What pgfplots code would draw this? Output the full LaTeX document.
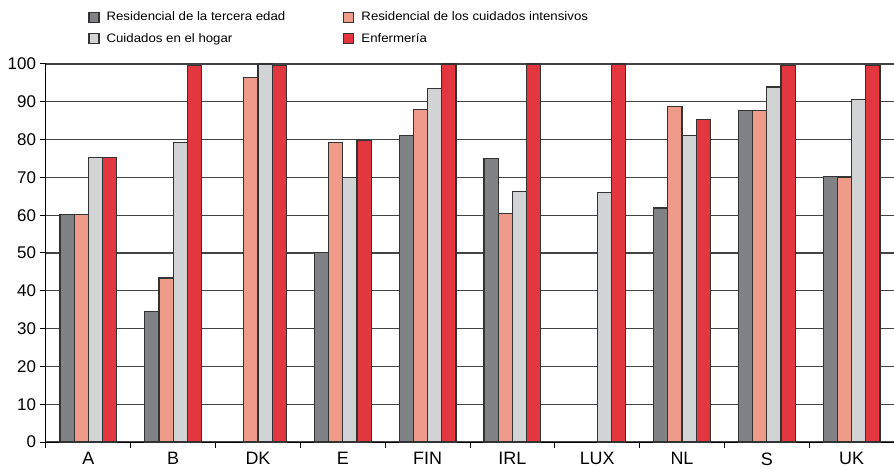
\documentclass[border=0pt]{standalone}
\usepackage{fontspec}
\setmainfont{Liberation Sans}
\newfontfamily\legendfont[FakeStretch=1.08]{Liberation Sans}
\usepackage{pgfplots}
\pgfplotsset{compat=1.18}

\definecolor{cDark}{HTML}{818286}
\definecolor{cSalmon}{HTML}{EE9B8A}
\definecolor{cLight}{HTML}{D1D3D4}
\definecolor{cRed}{HTML}{E2373F}
\definecolor{cEdge}{HTML}{333333}
\definecolor{cGrid}{HTML}{444444}

\begin{document}
\begin{tikzpicture}
% fixed canvas: 894 x 471 with the axis box at (46,29)-(894,407)
\useasboundingbox (-46bp,-29bp) rectangle (848bp,442bp);
\begin{axis}[
  scale only axis,
  width=848bp, height=378bp,
  at={(0,0)}, anchor=south west,
  xmin=0, xmax=10,
  ymin=0, ymax=100,
  clip=false,
  ybar=0pt,
  bar width=0.167,
  axis x line*=bottom,
  axis y line*=left,
  axis line style={-, line width=1bp, color=black},
  ytick={0,10,...,100},
  xtick={0,1,...,10},
  x tick label as interval,
  xticklabels={A,B,DK,E,FIN,IRL,LUX,NL,S,UK},
  major tick length=6bp,
  tick align=outside,
  tick style={line width=1bp, color=black},
  ymajorgrids,
  major grid style={line width=1.1bp, color=cGrid},
  yticklabel style={font=\fontsize{17}{19}\selectfont, xshift=-0.5bp},
  xticklabel style={font=\fontsize{18}{20}\selectfont, yshift=-1bp},
  /pgf/number format/assume math mode=true,
  every axis plot/.append style={draw=cEdge, line width=1.2bp},
  legend image code/.code={\draw[#1, line width=1.1bp] (0bp,-5bp) rectangle (10bp,5bp);},
  legend columns=2,
  legend cell align=left,
  legend style={draw=none, fill=none, inner sep=0pt, outer sep=0pt,
    at={(axis description cs:0.0501,1.143)}, anchor=north west,
    font=\legendfont\fontsize{12.3}{14}\selectfont,
    row sep=7bp,
    nodes={inner xsep=0pt},
    /tikz/every odd column/.append style={column sep=7bp},
    /tikz/every even column/.append style={column sep=58bp}},
]
% Residencial de la tercera edad
\addplot[fill=cDark] coordinates {
  (0.5,60.1) (1.5,34.6) (3.5,50.2) (4.5,81.1) (5.5,74.9)
  (7.5,61.9) (8.5,87.8) (9.5,70.2)};
% Residencial de los cuidados intensivos
\addplot[fill=cSalmon] coordinates {
  (0.5,60.1) (1.5,43.4) (2.5,96.5) (3.5,79.3) (4.5,87.9) (5.5,60.5)
  (7.5,88.7) (8.5,87.6) (9.5,70.1)};
% Cuidados en el hogar
\addplot[fill=cLight] coordinates {
  (0.5,75.2) (1.5,79.3) (2.5,100) (3.5,69.9) (4.5,93.6) (5.5,66.2)
  (6.5,66.0) (7.5,81.0) (8.5,93.9) (9.5,90.7)};
% Enfermería
\addplot[fill=cRed] coordinates {
  (0.5,75.2) (1.5,99.7) (2.5,99.7) (3.5,79.7) (4.5,100) (5.5,100)
  (6.5,100) (7.5,85.4) (8.5,99.6) (9.5,99.7)};
\legend{Residencial de la tercera edad, Residencial de los cuidados intensivos,
  Cuidados en el hogar, Enfermería}
\end{axis}
\end{tikzpicture}
\end{document}
